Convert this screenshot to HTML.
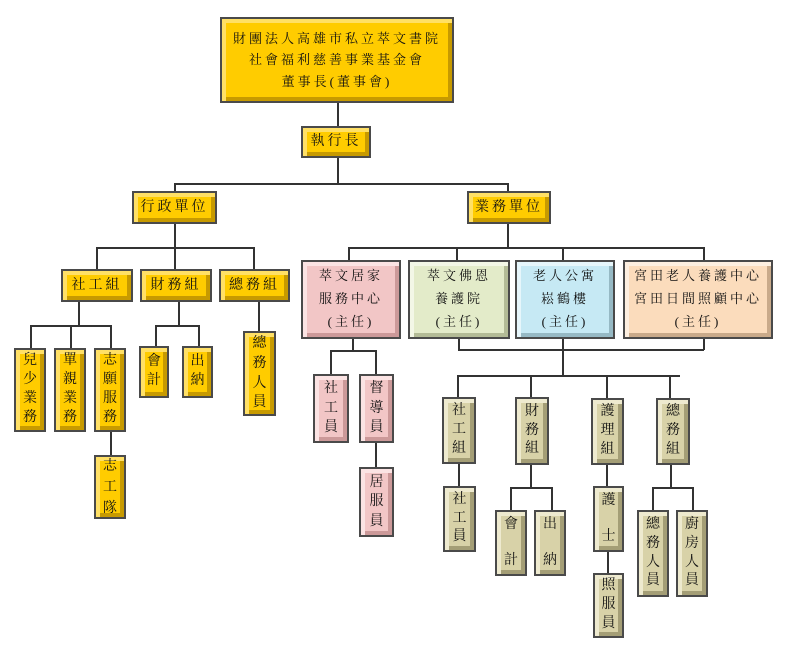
<!DOCTYPE html>
<html><head><meta charset="utf-8"><style>
body{margin:0;width:789px;height:648px;background:#fff;position:relative;overflow:hidden;font-family:"Liberation Serif","Noto Serif CJK SC",serif;}
.b{position:absolute;box-sizing:border-box;border:2px solid #4a4a4a;display:flex;align-items:center;justify-content:center;text-align:center;font-size:13px;color:#111;line-height:1.55;letter-spacing:3px;}
.g{background:#ffcc00;box-shadow:inset 4px 4px 0 #ffe066,inset -4px -4px 0 #c79a00;}
.p{background:#f2c6c6;box-shadow:inset 4px 4px 0 #fbe3e3,inset -4px -4px 0 #c99;}
.gr{background:#e3ebc9;box-shadow:inset 4px 4px 0 #f3f7e6,inset -4px -4px 0 #b3bb96;}
.bl{background:#c6e9f4;box-shadow:inset 4px 4px 0 #e6f6fb,inset -4px -4px 0 #96b9c4;}
.o{background:#fbdcbc;box-shadow:inset 4px 4px 0 #fdefe0,inset -4px -4px 0 #c9aa8a;}
.t{background:#d8d2a8;box-shadow:inset 4px 4px 0 #eeeacf,inset -4px -4px 0 #a49e76;}
.v{line-height:1.35;font-size:14px;letter-spacing:0;}
.h{position:absolute;height:1.5px;background:#333;}
.vl{position:absolute;width:1.5px;background:#333;}
</style></head><body>
<!-- lines -->
<div class="vl" style="left:337px;top:103px;height:23px"></div>
<div class="vl" style="left:337px;top:158px;height:25px"></div>
<div class="h" style="left:174px;top:183px;width:334px"></div>
<div class="vl" style="left:174px;top:183px;height:8px"></div>
<div class="vl" style="left:507px;top:183px;height:8px"></div>
<div class="vl" style="left:174px;top:224px;height:23px"></div>
<div class="h" style="left:96px;top:247px;width:158px"></div>
<div class="vl" style="left:96px;top:247px;height:22px"></div>
<div class="vl" style="left:174px;top:247px;height:22px"></div>
<div class="vl" style="left:253px;top:247px;height:22px"></div>
<div class="vl" style="left:78px;top:302px;height:23px"></div>
<div class="h" style="left:30px;top:325px;width:81px"></div>
<div class="vl" style="left:30px;top:325px;height:23px"></div>
<div class="vl" style="left:70px;top:325px;height:23px"></div>
<div class="vl" style="left:110px;top:325px;height:23px"></div>
<div class="vl" style="left:110px;top:432px;height:23px"></div>
<div class="vl" style="left:178px;top:302px;height:23px"></div>
<div class="h" style="left:155px;top:325px;width:44px"></div>
<div class="vl" style="left:155px;top:325px;height:21px"></div>
<div class="vl" style="left:198px;top:325px;height:21px"></div>
<div class="vl" style="left:258px;top:302px;height:29px"></div>

<div class="vl" style="left:507px;top:224px;height:23px"></div>
<div class="h" style="left:348px;top:247px;width:356px"></div>
<div class="vl" style="left:348px;top:247px;height:13px"></div>
<div class="vl" style="left:456px;top:247px;height:13px"></div>
<div class="vl" style="left:562px;top:247px;height:13px"></div>
<div class="vl" style="left:703px;top:247px;height:13px"></div>
<div class="vl" style="left:352px;top:339px;height:11px"></div>
<div class="h" style="left:330px;top:350px;width:46px"></div>
<div class="vl" style="left:330px;top:350px;height:24px"></div>
<div class="vl" style="left:375px;top:350px;height:24px"></div>
<div class="vl" style="left:375px;top:443px;height:24px"></div>
<div class="vl" style="left:458px;top:339px;height:11px"></div>
<div class="vl" style="left:703px;top:339px;height:11px"></div>
<div class="h" style="left:458px;top:349px;width:246px"></div>
<div class="vl" style="left:562px;top:339px;height:36px"></div>
<div class="h" style="left:457px;top:375px;width:223px"></div>
<div class="vl" style="left:457px;top:375px;height:22px"></div>
<div class="vl" style="left:530px;top:375px;height:22px"></div>
<div class="vl" style="left:606px;top:375px;height:23px"></div>
<div class="vl" style="left:669px;top:375px;height:23px"></div>
<div class="vl" style="left:458px;top:464px;height:22px"></div>
<div class="vl" style="left:530px;top:465px;height:22px"></div>
<div class="h" style="left:510px;top:487px;width:42px"></div>
<div class="vl" style="left:510px;top:487px;height:23px"></div>
<div class="vl" style="left:551px;top:487px;height:23px"></div>
<div class="vl" style="left:606px;top:465px;height:21px"></div>
<div class="vl" style="left:607px;top:552px;height:21px"></div>
<div class="vl" style="left:670px;top:465px;height:22px"></div>
<div class="h" style="left:652px;top:487px;width:41px"></div>
<div class="vl" style="left:652px;top:487px;height:23px"></div>
<div class="vl" style="left:692px;top:487px;height:23px"></div>

<!-- boxes -->
<div class="b g" style="left:220px;top:17px;width:234px;height:86px;line-height:1.65">財團法人高雄市私立萃文書院<br>社會福利慈善事業基金會<br>董事長(董事會)</div>
<div class="b g" style="left:301px;top:126px;width:70px;height:32px;font-size:14px">執行長</div>
<div class="b g" style="left:132px;top:191px;width:85px;height:33px;font-size:14px">行政單位</div>
<div class="b g" style="left:467px;top:191px;width:84px;height:33px;font-size:14px">業務單位</div>
<div class="b g" style="left:61px;top:269px;width:72px;height:33px;font-size:14px">社工組</div>
<div class="b g" style="left:140px;top:269px;width:72px;height:33px;font-size:14px">財務組</div>
<div class="b g" style="left:219px;top:269px;width:71px;height:33px;font-size:14px">總務組</div>
<div class="b g v" style="left:14px;top:348px;width:32px;height:84px;">兒<br>少<br>業<br>務</div>
<div class="b g v" style="left:54px;top:348px;width:32px;height:84px;">單<br>親<br>業<br>務</div>
<div class="b g v" style="left:94px;top:348px;width:32px;height:84px;">志<br>願<br>服<br>務</div>
<div class="b g v" style="left:94px;top:455px;width:32px;height:64px;line-height:1.5">志<br>工<br>隊</div>
<div class="b g v" style="left:139px;top:346px;width:30px;height:52px;">會<br>計</div>
<div class="b g v" style="left:182px;top:346px;width:31px;height:52px;">出<br>納</div>
<div class="b g v" style="left:243px;top:331px;width:33px;height:85px;line-height:1.4">總<br>務<br>人<br>員</div>

<div class="b p" style="left:301px;top:260px;width:100px;height:79px;line-height:1.75">萃文居家<br>服務中心<br>(主任)</div>
<div class="b gr" style="left:408px;top:260px;width:102px;height:79px;line-height:1.75">萃文佛恩<br>養護院<br>(主任)</div>
<div class="b bl" style="left:515px;top:260px;width:100px;height:79px;line-height:1.75">老人公寓<br>崧鶴樓<br>(主任)</div>
<div class="b o" style="left:623px;top:260px;width:150px;height:79px;line-height:1.75">宮田老人養護中心<br>宮田日間照顧中心<br>(主任)</div>

<div class="b p v" style="left:313px;top:374px;width:36px;height:69px;line-height:1.4">社<br>工<br>員</div>
<div class="b p v" style="left:359px;top:374px;width:35px;height:69px;line-height:1.4">督<br>導<br>員</div>
<div class="b p v" style="left:359px;top:467px;width:35px;height:70px;line-height:1.4">居<br>服<br>員</div>

<div class="b t v" style="left:442px;top:397px;width:34px;height:67px;line-height:1.35">社<br>工<br>組</div>
<div class="b t v" style="left:515px;top:397px;width:34px;height:68px;line-height:1.35">財<br>務<br>組</div>
<div class="b t v" style="left:591px;top:398px;width:33px;height:67px;line-height:1.35">護<br>理<br>組</div>
<div class="b t v" style="left:656px;top:398px;width:34px;height:67px;line-height:1.35">總<br>務<br>組</div>
<div class="b t v" style="left:443px;top:486px;width:33px;height:66px;line-height:1.35">社<br>工<br>員</div>
<div class="b t v" style="left:495px;top:510px;width:32px;height:66px;line-height:2.6">會<br>計</div>
<div class="b t v" style="left:534px;top:510px;width:32px;height:66px;line-height:2.6">出<br>納</div>
<div class="b t v" style="left:593px;top:486px;width:31px;height:66px;line-height:2.6">護<br>士</div>
<div class="b t v" style="left:593px;top:573px;width:31px;height:65px;line-height:1.35">照<br>服<br>員</div>
<div class="b t v" style="left:637px;top:510px;width:32px;height:87px;line-height:1.35">總<br>務<br>人<br>員</div>
<div class="b t v" style="left:676px;top:510px;width:32px;height:87px;line-height:1.35">廚<br>房<br>人<br>員</div>
</body></html>
